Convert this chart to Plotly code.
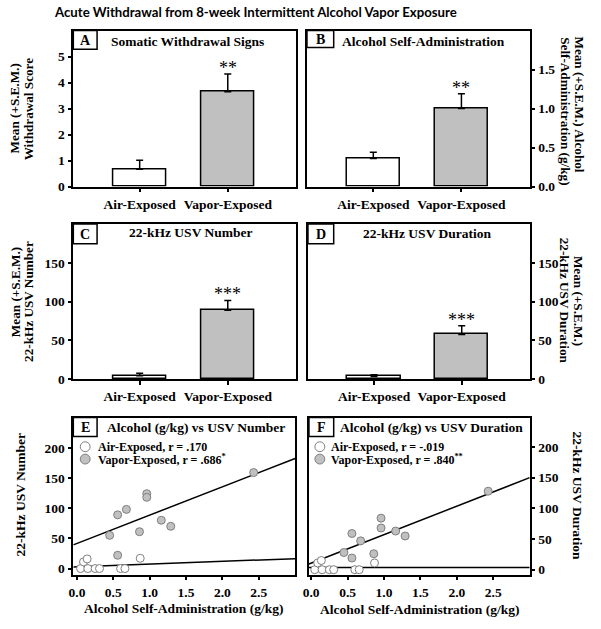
import plotly.graph_objects as go

W, H = 601, 629
def px(x): return x / W
def py(y): return 1 - y / H

# ---------------- data ----------------
groups = ["Air-Exposed", "Vapor-Exposed"]
withdrawal_mean = [0.67, 3.65]
withdrawal_sem = [0.34, 0.68]
selfadmin_mean = [0.36, 1.00]
selfadmin_sem = [0.08, 0.19]
usv_number_mean = [4.5, 89.0]
usv_number_sem = [3.0, 12.5]
usv_duration_mean = [3.5, 57.5]
usv_duration_sem = [2.0, 11.3]
stars = ["**", "**", "***", "***"]

air_alcohol = [0.05, 0.09, 0.14, 0.15, 0.25, 0.31, 0.60, 0.66, 0.87]
air_usv_number = [0, 11, 16, 0, 0, 0, 0, 0, 17]
air_usv_duration = [0, 11, 15, 0, 0, 0, 0, 0, 11]
vapor_alcohol = [0.45, 0.56, 0.56, 0.68, 0.86, 0.96, 0.96, 1.16, 1.29, 2.43]
vapor_usv_number = [55, 89, 22, 98, 61, 124, 118, 80, 70, 159]
vapor_usv_duration = [28, 59, 19, 47, 26, 84, 68, 63, 55, 128]

# trend lines (intercept, slope)
trend_E_air = (2.95, 4.5)
trend_E_vapor = (41.6, 46.9)
trend_F_air = (3.7, -0.1)
trend_F_vapor = (10.6, 46.5)

legend_E = ["Air-Exposed, r = .170", "Vapor-Exposed, r = .686<sup>*</sup>"]
legend_F = ["Air-Exposed, r = -.019", "Vapor-Exposed, r = .840<sup>**</sup>"]

# ---------------- style ----------------
SERIF = "Liberation Serif"
GRAY = "#c0c0c0"
EDGE = "#7f7f7f"
bar_pos = [0, 1]
xr_bar = [-0.753, 1.775]
xr_E = [-0.05, 3.0]
xr_F = [-0.03, 3.0]

fig = go.Figure()

bar_sets = [
    (withdrawal_mean, withdrawal_sem, "x", "y"),
    (selfadmin_mean, selfadmin_sem, "x2", "y2"),
    (usv_number_mean, usv_number_sem, "x3", "y3"),
    (usv_duration_mean, usv_duration_sem, "x4", "y4"),
]
for (m, s, xa, ya), st in zip(bar_sets, stars):
    fig.add_trace(go.Bar(
        x=bar_pos, y=m, width=0.607, xaxis=xa, yaxis=ya,
        marker=dict(color=["white", GRAY], line=dict(color="black", width=1.5)),
        error_y=dict(type="data", symmetric=False, array=s, arrayminus=[0, 0],
                     color="black", thickness=1.5, width=3.5),
        showlegend=False, hoverinfo="skip"))
    fig.add_annotation(x=bar_pos[1], y=m[1] + s[1], xref=xa, yref=ya,
                       text=st, showarrow=False, yanchor="middle", yshift=6,
                       font=dict(family=SERIF, size=18, color="black"))

def scatter_panel(xa, ya, xr, yair, yvap, tair, tvap):
    for (b0, b1) in (tair, tvap):
        fig.add_trace(go.Scatter(
            x=xr, y=[b0 + b1 * xr[0], b0 + b1 * xr[1]], mode="lines",
            line=dict(color="black", width=1.5), xaxis=xa, yaxis=ya,
            showlegend=False, hoverinfo="skip", cliponaxis=True))
    fig.add_trace(go.Scatter(
        x=air_alcohol, y=yair, mode="markers", xaxis=xa, yaxis=ya,
        marker=dict(size=8, color="white", line=dict(color=EDGE, width=1)),
        showlegend=False, cliponaxis=False))
    fig.add_trace(go.Scatter(
        x=vapor_alcohol, y=yvap, mode="markers", xaxis=xa, yaxis=ya,
        marker=dict(size=8, color=GRAY, line=dict(color=EDGE, width=1)),
        showlegend=False, cliponaxis=False))

scatter_panel("x5", "y5", xr_E, air_usv_number, vapor_usv_number, trend_E_air, trend_E_vapor)
scatter_panel("x6", "y6", xr_F, air_usv_duration, vapor_usv_duration, trend_F_air, trend_F_vapor)

tickfont = dict(family=SERIF, size=13.5, color="black", weight="bold")
def ax(domain, **kw):
    d = dict(domain=domain, showline=True, linecolor="black", linewidth=1.5,
             mirror=True, ticks="outside", ticklen=4, tickwidth=1.5, tickcolor="black",
             showgrid=False, zeroline=False, tickfont=tickfont, fixedrange=True)
    d.update(kw)
    return d

boxes = {
    1: (68, 293, 31, 189),
    2: (304, 529, 31, 189),
    3: (68, 293, 227, 384),
    4: (305, 529, 227, 384),
    5: (68, 292, 423, 582),
    6: (306, 529, 423, 582),
}
def xd(i): return [px(boxes[i][0]), px(boxes[i][1])]
def yd(i): return [py(boxes[i][3]), py(boxes[i][2])]

layout_axes = {}
for i in (1, 2, 3, 4):
    sfx = "" if i == 1 else str(i)
    layout_axes["xaxis" + sfx] = ax(xd(i), range=xr_bar, tickvals=bar_pos, ticktext=groups,
                                    anchor="y" + sfx)
layout_axes["yaxis"] = ax(yd(1), range=[0, 6], tickvals=[0, 1, 2, 3, 4, 5], anchor="x")
layout_axes["yaxis2"] = ax(yd(2), range=[0, 2.0], tickvals=[0, 0.5, 1.0, 1.5], tickformat=".1f",
                           side="right", anchor="x2")
layout_axes["yaxis3"] = ax(yd(3), range=[0, 200], tickvals=[0, 50, 100, 150], anchor="x3")
layout_axes["yaxis4"] = ax(yd(4), range=[0, 200], tickvals=[0, 50, 100, 150], side="right", anchor="x4")
layout_axes["xaxis5"] = ax(xd(5), range=xr_E, tickvals=[0, 0.5, 1, 1.5, 2, 2.5], tickformat=".1f",
                           anchor="y5")
layout_axes["yaxis5"] = ax(yd(5), range=[-10, 250], tickvals=[0, 50, 100, 150, 200], anchor="x5")
layout_axes["xaxis6"] = ax(xd(6), range=xr_F, tickvals=[0, 0.5, 1, 1.5, 2, 2.5], tickformat=".1f",
                           anchor="y6")
layout_axes["yaxis6"] = ax(yd(6), range=[-8, 248], tickvals=[0, 50, 100, 150, 200], side="right", anchor="x6")

fig.update_layout(width=W, height=H, autosize=False,
                  margin=dict(l=0, r=0, t=0, b=0),
                  paper_bgcolor="white", plot_bgcolor="white",
                  bargap=0, showlegend=False, **layout_axes)

def note(x, y, text, size=13, angle=0, family=SERIF, bold=True, xanchor="center"):
    fig.add_annotation(x=px(x), y=py(y), xref="paper", yref="paper", text=text,
                       showarrow=False, textangle=angle, xanchor=xanchor, yanchor="middle",
                       font=dict(family=family, size=size, color="black",
                                 weight="bold" if bold else "normal"))

# main title
note(252, 12, "Acute Withdrawal from 8-week Intermittent Alcohol Vapor Exposure",
     size=13.2, family="Lato")

# panel letter boxes
letter_boxes = [("A", 68, 92, 31, 50), ("B", 304, 331, 31, 48), ("C", 68, 92, 227, 247),
                ("D", 305, 331, 227, 247), ("E", 68, 92, 423, 442), ("F", 306, 331, 423, 442)]
for L, x0, x1, y0, y1 in letter_boxes:
    fig.add_shape(type="rect", xref="paper", yref="paper", x0=px(x0), x1=px(x1),
                  y0=py(y1), y1=py(y0), line=dict(color="black", width=1.5), fillcolor="white")
    note((x0 + x1) / 2, (y0 + y1) / 2 + 1, L, size=14)

# panel titles
note(183, 42, "Somatic Withdrawal Signs", size=13.5)
note(422, 42, "Alcohol Self-Administration", size=13.5)
note(187, 236, "22-kHz USV Number", size=13.5)
note(426, 237, "22-kHz USV Duration", size=13.5)
note(192, 433, "Alcohol (g/kg) vs USV Number", size=13.5)
note(430, 433, "Alcohol (g/kg) vs USV Duration", size=13.5)

# axis titles (one annotation per line)
R = 6
AT = 13.2
note(15 - R, 110, "Mean (+S.E.M.)", size=AT, angle=-90)
note(29 - R, 110, "Withdrawal Score", size=AT, angle=-90)
note(585 - R, 106, "Mean (+S.E.M.) Alcohol", size=AT, angle=90)
note(571 - R, 113, "Self-Administration (g/kg)", size=AT, angle=90)
note(15 - R, 296, "Mean (+S.E.M.)", size=AT, angle=-90)
note(28 - R, 305, "22-kHz USV Number", size=AT, angle=-90)
note(585 - R, 305, "Mean (+S.E.M.)", size=AT, angle=90)
note(571 - R, 305, "22-kHz USV Duration", size=AT, angle=90)
note(21 - R, 501, "22-kHz USV Number", size=13.5, angle=-90)
note(583 - R, 502, "22-kHz USV Duration", size=13.5, angle=90)
note(180, 616, "Alcohol Self-Administration (g/kg)", size=13.5)
note(418, 617, "Alcohol Self-Administration (g/kg)", size=13.5)

# legends inside scatter panels
def legend(cx, tx, labels):
    for (lab, cy, fill) in zip(labels, (452.5, 465), ("white", GRAY)):
        fig.add_shape(type="circle", xref="paper", yref="paper",
                      x0=px(cx - 5), x1=px(cx + 5), y0=py(cy + 5), y1=py(cy - 5),
                      line=dict(color=EDGE, width=1), fillcolor=fill)
        note(tx, cy, lab, size=12, xanchor="left")

legend(80, 91, legend_E)
legend(317, 326, legend_F)

fig.write_html("out.html", post_script="document.body.style.margin='0';",
               config={"displayModeBar": False})
